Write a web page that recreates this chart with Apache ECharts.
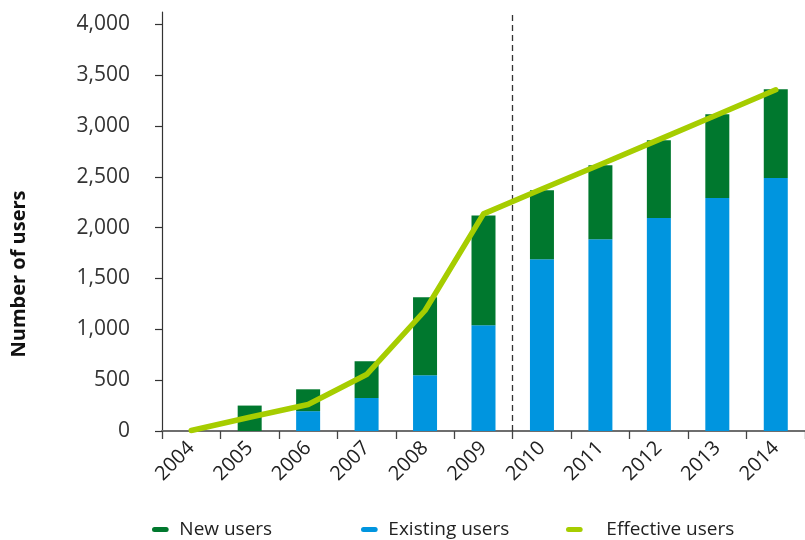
<!DOCTYPE html>
<html>
<head>
<meta charset="utf-8">
<script src="https://cdn.jsdelivr.net/npm/echarts@6/dist/echarts.min.js"></script>
<style>
  html, body { margin: 0; padding: 0; background: #fff; }
  #chart { width: 805px; height: 540px; }
</style>
</head>
<body>
<div id="chart"></div>
<script>
// Users per year: existing users (blue) stacked under new users (dark green),
// with the effective number of users drawn as a line.
const categories = ['2004', '2005', '2006', '2007', '2008', '2009', '2010', '2011', '2012', '2013', '2014'];
const existingUsers = [0, 0, 195, 325, 548, 1040, 1690, 1885, 2095, 2292, 2488];
const newUsers = [0, 250, 215, 360, 767, 1080, 678, 728, 764, 823, 873];
const effectiveUsers = [5, 135, 260, 555, 1185, 2135, 2380, 2620, 2865, 3110, 3355];
const yTicks = [0, 500, 1000, 1500, 2000, 2500, 3000, 3500, 4000];
const forecastFrom = '2010';

const FONT = '"Open Sans", "Noto Sans", sans-serif';
const GREEN = '#00782e';
const BLUE = '#0095df';
const LIME = '#a6cd00';

const chart = echarts.init(document.getElementById('chart'), null, { renderer: 'canvas' });

const legendIcon = 'path://M3,0 H17 A3,3 0 0 1 17,6 H3 A3,3 0 0 1 3,0 Z';
function legendAt(name, left, gap) {
  return {
    data: [name],
    left: left,
    top: 520,
    padding: 0,
    icon: legendIcon,
    itemWidth: 20,
    itemHeight: 5,
    selectedMode: false,
    textStyle: { fontFamily: FONT, fontSize: 19, color: '#222', padding: [0, 0, 0, gap] }
  };
}

chart.setOption({
  animation: false,
  grid: { left: 162, top: 12, width: 645, height: 419 },
  legend: [
    legendAt('New users', 152, 4),
    legendAt('Existing users', 361, 4),
    legendAt('Effective users', 566, 17)
  ],
  xAxis: [{
    type: 'category',
    data: categories,
    boundaryGap: true,
    axisLine: { lineStyle: { color: '#6e6e6e', width: 2 } },
    axisTick: { show: true, length: 8, alignWithLabel: false, lineStyle: { color: '#444', width: 1.3 } },
    axisLabel: { interval: 0, rotate: 45, margin: 14, fontFamily: FONT, fontSize: 20, color: '#222' },
    splitLine: { show: false }
  }, {
    // helper scale running across the category bands, used for the dashed divider
    type: 'value',
    min: 0,
    max: categories.length,
    show: false
  }],
  yAxis: {
    type: 'value',
    min: 0,
    max: 4120,
    interval: 500,
    axisLine: { show: true, lineStyle: { color: '#333', width: 1.2 } },
    axisTick: { show: true, length: 7, customValues: yTicks, lineStyle: { color: '#333', width: 1.2 } },
    axisLabel: {
      customValues: yTicks,
      margin: 32,
      fontFamily: FONT, fontSize: 21, color: '#333',
      formatter: v => v.toLocaleString('en-US')
    },
    splitLine: { show: false }
  },
  graphic: [{
    type: 'text',
    x: 19,
    y: 274,
    rotation: Math.PI / 2,
    style: {
      text: 'Number of users',
      fontFamily: FONT,
      fontWeight: 'bold',
      fontSize: 20,
      fill: '#111',
      align: 'center',
      verticalAlign: 'middle'
    }
  }],
  series: [{
    name: 'Existing users',
    type: 'bar',
    stack: 'users',
    barWidth: 24,
    itemStyle: { color: BLUE },
    data: existingUsers
  }, {
    name: 'New users',
    type: 'bar',
    stack: 'users',
    barWidth: 24,
    itemStyle: { color: GREEN },
    data: newUsers
  }, {
    name: 'Effective users',
    type: 'line',
    data: effectiveUsers,
    showSymbol: false,
    symbol: 'none',
    z: 5,
    lineStyle: { color: LIME, width: 5.5, cap: 'round', join: 'round' },
    itemStyle: { color: LIME }
  }, {
    // divider between actual and projected years
    type: 'line',
    xAxisIndex: 1,
    data: [],
    silent: true,
    markLine: {
      symbol: 'none',
      silent: true,
      label: { show: false },
      lineStyle: { type: [6, 4], color: '#333', width: 1.3 },
      data: [{ xAxis: categories.indexOf(forecastFrom) }]
    }
  }]
});
</script>
</body>
</html>
